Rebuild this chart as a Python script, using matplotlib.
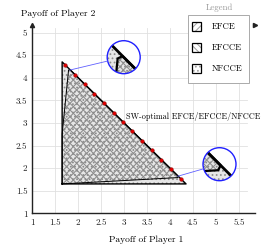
import numpy as np
import matplotlib
matplotlib.use("Agg")
import matplotlib.pyplot as plt
from matplotlib.patches import Circle, Rectangle
from matplotlib.lines import Line2D

plt.rcParams['font.family'] = ['cmr10', 'DejaVu Serif']
plt.rcParams['axes.formatter.use_mathtext'] = True
plt.rcParams['hatch.linewidth'] = 0.75

# ---------------- data ----------------
x_ticks = [1, 1.5, 2, 2.5, 3, 3.5, 4, 4.5, 5, 5.5]
x_tick_labels = ["1", "1.5", "2", "2.5", "3", "3.5", "4", "4.5", "5", "5.5"]
y_ticks = [1, 1.5, 2, 2.5, 3, 3.5, 4, 4.5, 5]
y_tick_labels = ["1", "1.5", "2", "2.5", "3", "3.5", "4", "4.5", "5"]

nfcce_x = [1.65, 1.65, 4.35]
nfcce_y = [1.65, 4.35, 1.65]
efce_x = [1.65, 1.65, 1.79, 1.817, 4.183, 4.17]
efce_y = [1.65, 2.75, 4.17, 4.183, 1.817, 1.79]
efcce_x = [1.65, 1.65, 1.79, 1.817, 4.183, 4.17]
efcce_y = [1.65, 2.75, 4.17, 4.183, 1.817, 1.79]

sw_x = [1.72, 1.93, 2.14, 2.35, 2.56, 2.77, 2.98, 3.18, 3.39, 3.60, 3.81, 4.02, 4.23]
sw_y = [4.28, 4.07, 3.86, 3.65, 3.44, 3.23, 3.02, 2.82, 2.61, 2.40, 2.19, 1.98, 1.77]

zoom_points = [(1.82, 4.17), (4.17, 1.82)]
zoom_centers = [(1.823, 4.177), (4.177, 1.823)]

W, H = 265, 250
fig = plt.figure(figsize=(W / 100, H / 100), dpi=100)
ax = fig.add_axes([32.3 / W, 36.7 / H, 222.6 / W, 188.0 / H])
ax.set_xlim(1, 5.85)
ax.set_ylim(1, 5.16)

GRID = '#e0e0e0'
for xv in x_ticks[1:]:
    ax.plot([xv, xv], [1, 5.09], color=GRID, lw=0.6, zorder=0)
for yv in y_ticks[1:]:
    ax.plot([1, 5.67], [yv, yv], color=GRID, lw=0.6, zorder=0)

for s in ['top', 'right']:
    ax.spines[s].set_visible(False)
for s in ['left', 'bottom']:
    ax.spines[s].set_linewidth(1.0)
    ax.spines[s].set_color('#222222')
ax.plot(1, 1, '>', color='#222222', ms=3, transform=ax.transAxes, clip_on=False)
ax.plot(0, 1, '^', color='#222222', ms=3, transform=ax.transAxes, clip_on=False)

ax.set_xticks(x_ticks)
ax.set_xticklabels(x_tick_labels)
ax.set_yticks(y_ticks)
ax.set_yticklabels(y_tick_labels)
ax.tick_params(length=0, labelsize=6.5, pad=3.5, labelcolor='#222222')

HC = '#8c8c8c'


def draw_regions(a, lw_outer, lw_inner, clip=None):
    arts = []
    arts.append(a.fill(nfcce_x, nfcce_y, facecolor='#e6e6e6', edgecolor=HC,
                       hatch='....', lw=0, zorder=1)[0])
    arts.append(a.fill(efce_x, efce_y, facecolor='none', edgecolor=HC,
                       hatch='/////', lw=0, zorder=2)[0])
    arts.append(a.fill(efcce_x, efcce_y, facecolor='none', edgecolor=HC,
                       hatch='\\\\\\\\\\', lw=0, zorder=2)[0])
    arts += a.plot(nfcce_x + [nfcce_x[0]], nfcce_y + [nfcce_y[0]], color='black',
                   lw=lw_outer, zorder=3)
    arts += a.plot(efce_x + [efce_x[0]], efce_y + [efce_y[0]], color='black',
                   lw=lw_inner, zorder=3)
    if clip is not None:
        for art in arts:
            art.set_clip_path(clip)
    return arts


draw_regions(ax, 1.0, 0.7)
ax.plot(sw_x, sw_y, 'o', color='#dd0000', ms=2.6, mec='#880000', mew=0.3, zorder=4)
ax.text(3.04, 3.15, "SW-optimal EFCE/EFCCE/NFCCE", fontsize=5.9, va='center', ha='left')

# axis labels
fig.text(57.8 / W, 1 - 14 / H, "Payoff of Player 2", fontsize=6.8, ha='center', va='center')
fig.text(146.3 / W, 1 - 240 / H, "Payoff of Player 1", fontsize=6.8, ha='center', va='center')

# zoom insets
R = 16.5
circ_centers_px = [(123.7, 57.2), (219.5, 164.2)]
half = 0.09
for (cxp, cyp), (dcx, dcy), src in zip(circ_centers_px, zoom_centers, zoom_points):
    axin = fig.add_axes([(cxp - R) / W, 1 - (cyp + R) / H, 2 * R / W, 2 * R / H])
    axin.set_xlim(dcx - half, dcx + half)
    axin.set_ylim(dcy - half, dcy + half)
    axin.axis('off')
    bg = Circle((0.5, 0.5), 0.5, transform=axin.transAxes, facecolor='white',
                edgecolor='none', zorder=0)
    axin.add_patch(bg)
    draw_regions(axin, 2.0, 1.6, clip=bg)
    axin.add_patch(Circle((0.5, 0.5), 0.5, transform=axin.transAxes, fill=False,
                          edgecolor='#2020ff', lw=1.0, zorder=10, clip_on=False))
    sx, sy = ax.transData.transform(src)
    ccx, ccy = cxp, H - cyp
    d = np.array([ccx - sx, ccy - sy])
    d = d / np.linalg.norm(d)
    ex, ey = ccx - R * d[0], ccy - R * d[1]
    fig.add_artist(Line2D([sx / W, ex / W], [sy / H, ey / H], transform=fig.transFigure,
                          color='#6060ff', lw=0.6))

# legend
fig.text(219.3 / W, 1 - 7.7 / H, "Legend", fontsize=6.3, color='#999999', ha='center', va='center')
fig.add_artist(Rectangle((187.5 / W, 1 - 82.7 / H), 61.5 / W, 67.7 / H, transform=fig.transFigure,
                         facecolor='white', edgecolor='#aaaaaa', lw=0.7))
entries = [("EFCE", '/////'), ("EFCCE", '\\\\\\\\\\'), ("NFCCE", '....')]
rows = [26.7, 47.3, 68.3]
for (lab, hatch), ry in zip(entries, rows):
    fig.add_artist(Rectangle((192.3 / W, 1 - (ry + 4.6) / H), 8.6 / W, 9.2 / H,
                             transform=fig.transFigure, facecolor='white',
                             edgecolor='#a0a0a0', hatch=hatch, lw=0))
    fig.add_artist(Rectangle((192.3 / W, 1 - (ry + 4.6) / H), 8.6 / W, 9.2 / H,
                             transform=fig.transFigure, fill=False,
                             edgecolor='black', lw=0.9))
    fig.text(211.7 / W, 1 - ry / H, lab, fontsize=6.3, ha='left', va='center')

fig.savefig("out.png", dpi=100)
